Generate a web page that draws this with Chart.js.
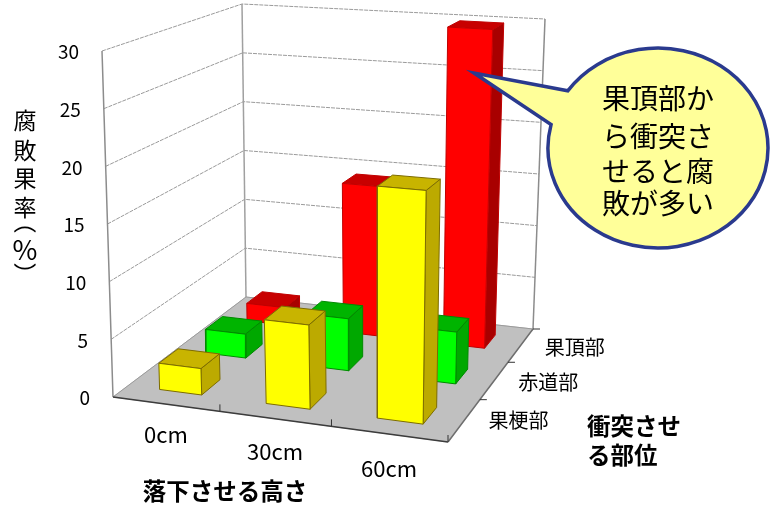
<!DOCTYPE html>
<html lang="ja">
<head>
<meta charset="utf-8">
<title>落下させる高さと腐敗果率</title>
<script src="https://cdn.jsdelivr.net/npm/chart.js@4"></script>
<style>
body { margin: 0; background: #fff; }
canvas { display: block; }
</style>
</head>
<body>
<canvas id="fruitChart" width="771" height="506"></canvas>
<script>
const dropHeights = ['0cm', '30cm', '60cm'];
const impactSites = ['果梗部', '赤道部', '果頂部'];
const valueTicks = [0, 5, 10, 15, 20, 25, 30];
const stemEndValues = [2.3, 7.2, 19.6];
const equatorValues = [2.2, 4.7, 4.6];
const apexValues = [1.7, 14.3, 29.9];

const siteValues = [stemEndValues, equatorValues, apexValues];
const siteColors = [
    { front: '#ffff00', side: '#bcaa00', top: '#c8b400', edge: '#7d6c00' },
    { front: '#00ff00', side: '#00a800', top: '#00b400', edge: '#008a00' },
    { front: '#ff0000', side: '#a80000', top: '#c80000', edge: '#c00000' }
];

// corners of the plot box as seen on the page: front-left, front-right, back-right, back-left
const floorCorners = [[113, 397], [448, 442], [533, 329], [246, 297]];
const topCorners = [[102, 51], [456, 76], [545, 19], [242, 4]];
const maxValue = 30;
const barInset = 0.3;

function makeHomography(q) {
    const [p0, p1, p2, p3] = q;
    const dx1 = p1[0] - p2[0], dx2 = p3[0] - p2[0], sx = p0[0] - p1[0] + p2[0] - p3[0];
    const dy1 = p1[1] - p2[1], dy2 = p3[1] - p2[1], sy = p0[1] - p1[1] + p2[1] - p3[1];
    const den = dx1 * dy2 - dx2 * dy1;
    const g = (sx * dy2 - dx2 * sy) / den;
    const h = (dx1 * sy - sx * dy1) / den;
    return (u, v) => {
        const w = g * u + h * v + 1;
        return [
            ((p1[0] - p0[0] + g * p1[0]) * u + (p3[0] - p0[0] + h * p3[0]) * v + p0[0]) / w,
            ((p1[1] - p0[1] + g * p1[1]) * u + (p3[1] - p0[1] + h * p3[1]) * v + p0[1]) / w
        ];
    };
}

const floorMap = makeHomography(floorCorners);
const topMap = makeHomography(topCorners);

// cat and depth run 0..3 over the floor, value runs 0..30 up the walls
function project(cat, depth, value) {
    const a = floorMap(cat / 3, depth / 3);
    const b = topMap(cat / 3, depth / 3);
    const t = value / maxValue;
    return { x: a[0] + (b[0] - a[0]) * t, y: a[1] + (b[1] - a[1]) * t };
}

const datasets = [];

function addShape(points, fillColor, lineColor, lineWidth) {
    datasets.push({
        data: points.concat([points[0]]),
        showLine: true,
        pointRadius: 0,
        borderColor: lineColor,
        borderWidth: lineWidth,
        backgroundColor: fillColor,
        fill: 'shape',
        order: -datasets.length
    });
}

function addLine(points, color, width, dash) {
    datasets.push({
        data: points,
        showLine: true,
        pointRadius: 0,
        borderColor: color,
        borderWidth: width,
        borderDash: dash || [],
        fill: false,
        order: -datasets.length
    });
}

// floor
addShape([project(0, 0, 0), project(3, 0, 0), project(3, 3, 0), project(0, 3, 0)], '#c0c0c0', '#c0c0c0', 1);

// wall grid lines
valueTicks.slice(1).forEach(tick => {
    addLine([project(0, 0, tick), project(0, 3, tick), project(3, 3, tick)], '#9a9a9a', 1, [4, 1]);
});

// wall frame
addLine([project(0, 0, 0), project(0, 0, maxValue)], '#8c8c8c', 1.5);
addLine([project(0, 3, 0), project(0, 3, maxValue)], '#a0a0a0', 1.5);
addLine([project(3, 3, 0), project(3, 3, maxValue)], '#8c8c8c', 1.5);
addLine([project(0, 0, 0), project(0, 3, 0)], '#9a9a9a', 1);
addLine([project(0, 3, 0), project(3, 3, 0)], '#9a9a9a', 1);

// floor edges and tick marks
addLine([project(0, 0, 0), project(3, 0, 0)], '#3c3c3c', 1.5);
addLine([project(3, 0, 0), project(3, 3, 0)], '#6e6e6e', 1.5);
[1, 2, 3].forEach(i => {
    const p = project(i, 0, 0);
    addLine([p, { x: p.x, y: p.y - 7 }], '#333333', 1);
    const q = project(3, i, 0);
    addLine([q, { x: q.x + 7, y: q.y }], '#333333', 1);
});

// bars, back row first and left to right so nearer bars cover the others
for (let site = impactSites.length - 1; site >= 0; site--) {
    dropHeights.forEach((label, cat) => {
        const value = siteValues[site][cat];
        const c = siteColors[site];
        const u0 = cat + barInset, u1 = cat + 1 - barInset;
        const v0 = site + barInset, v1 = site + 1 - barInset;
        addShape([project(u1, v0, 0), project(u1, v1, 0), project(u1, v1, value), project(u1, v0, value)], c.side, c.edge, 1);
        addShape([project(u0, v0, value), project(u1, v0, value), project(u1, v1, value), project(u0, v1, value)], c.top, c.edge, 1);
        addShape([project(u0, v0, 0), project(u1, v0, 0), project(u1, v0, value), project(u0, v0, value)], c.front, c.edge, 1);
    });
}

const jpFont = '"Noto Sans CJK JP", "Noto Sans", sans-serif';

function drawBubble(ctx) {
    const cx = 658, cy = 148, rx = 110, ry = 100;
    const start = Math.atan2((91 - cy) / ry, (568 - cx) / rx);
    const end = Math.atan2((125 - cy) / ry, (553 - cx) / rx);
    ctx.beginPath();
    ctx.ellipse(cx, cy, rx, ry, 0, start, end, false);
    ctx.lineTo(474, 73);
    ctx.closePath();
    ctx.fillStyle = '#ffff99';
    ctx.fill();
    ctx.strokeStyle = '#2a3a8e';
    ctx.lineWidth = 3.5;
    ctx.lineJoin = 'miter';
    ctx.stroke();
}

const labelsPlugin = {
    id: 'labelsPlugin',
    afterDraw(chart) {
        const ctx = chart.ctx;
        ctx.save();
        ctx.fillStyle = '#000';
        ctx.textBaseline = 'middle';

        // value axis numbers follow the leaning front edge
        ctx.font = '19px ' + jpFont;
        ctx.textAlign = 'right';
        valueTicks.forEach(tick => {
            const p = project(0, 0, tick);
            ctx.fillText(String(tick), p.x - 23, p.y + 1);
        });

        // drop height labels under the front edge
        ctx.font = '22px ' + jpFont;
        ctx.textAlign = 'center';
        dropHeights.forEach((label, i) => {
            const p = project(i + 0.5, 0, 0);
            ctx.fillText(label, p.x, p.y + 31 + i * 2);
        });

        // impact site labels beside the right edge
        ctx.font = '20px ' + jpFont;
        impactSites.forEach((label, i) => {
            const p = project(3, i + 0.5, 0);
            ctx.fillText(label, p.x + 54, p.y + (i === 0 ? 0 : 2));
        });

        // vertical axis title, one character at a time
        ctx.font = '23px ' + jpFont;
        const title = [['腐', 120], ['敗', 150], ['果', 178], ['率', 207]];
        title.forEach(([ch, y]) => ctx.fillText(ch, 25, y));
        ctx.font = '27px ' + jpFont;
        ctx.fillText('%', 25, 250);
        ctx.font = '23px ' + jpFont;
        [['（', 222], ['）', 274]].forEach(([ch, y]) => {
            ctx.save();
            ctx.translate(25, y);
            ctx.rotate(Math.PI / 2);
            ctx.fillText(ch, 0, 0);
            ctx.restore();
        });

        // bold axis names
        ctx.font = 'bold 23.5px ' + jpFont;
        ctx.fillText('落下させる高さ', 225, 491);
        ctx.textAlign = 'left';
        ctx.fillText('衝突させ', 587, 426);
        ctx.fillText('る部位', 587, 455);

        drawBubble(ctx);
        ctx.fillStyle = '#000';
        ctx.textAlign = 'center';
        ctx.font = '28px ' + jpFont;
        [['果頂部か', 98], ['ら衝突さ', 136], ['せると腐', 171], ['敗が多い', 203]].forEach(([line, y]) => {
            ctx.fillText(line, 658, y);
        });
        ctx.restore();
    }
};

new Chart(document.getElementById('fruitChart'), {
    type: 'scatter',
    data: { datasets: datasets },
    plugins: [labelsPlugin],
    options: {
        responsive: false,
        animation: false,
        layout: { padding: 0 },
        elements: { line: { tension: 0 } },
        plugins: {
            legend: { display: false },
            tooltip: { enabled: false },
            title: { display: false }
        },
        scales: {
            x: { type: 'linear', min: 0, max: 771, display: false },
            y: { type: 'linear', min: 0, max: 506, reverse: true, display: false }
        }
    }
});
</script>
</body>
</html>
